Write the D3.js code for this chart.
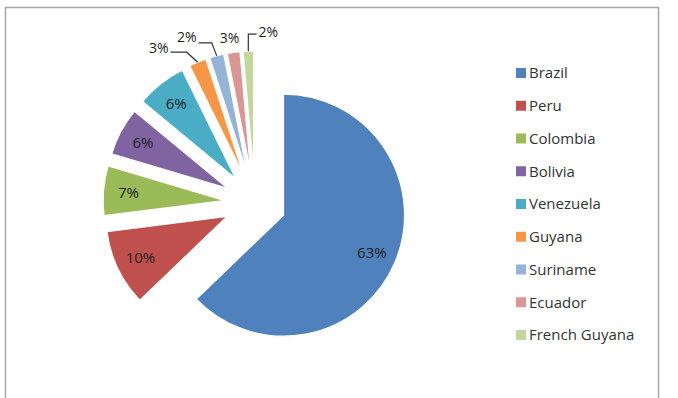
<!DOCTYPE html>
<html>
<head>
<meta charset="utf-8">
<script src="https://cdn.jsdelivr.net/npm/d3@7"></script>
<style>
  body { margin: 0; background: #fff; }
  svg { display: block; }
  text { font-family: "Open Sans", sans-serif; }
</style>
</head>
<body>
<div id="chart"></div>
<script>
// slice data (angles), plus the % labels as printed
const countries = ["Brazil", "Peru", "Colombia", "Bolivia", "Venezuela", "Guyana", "Suriname", "Ecuador", "French Guyana"];
const shares = [62.8, 10.2, 6.6, 6.4, 6.7, 2.3, 1.9, 1.7, 1.4];
const pctLabels = ["63%", "10%", "7%", "6%", "6%", "3%", "2%", "3%", "2%"];
const colors = ["#4F81BD", "#C0504D", "#9BBB59", "#8064A2", "#4BACC6", "#F79646", "#95B3D7", "#D99694", "#C3D69B"];

const width = 678;
const height = 398;

// pie layout
const cx = 255, cy = 203;
const radius = 121;
const explode = 31;
const labelRadius = 96;

// small slices get their label outside with a leader line
// text offset + elbow offset, relative to the outer arc midpoint
const callouts = {
  5: { tx: -39, ty: -14, ex: -11, ey: -10, side: "left" },
  6: { tx: -30, ty: -19, ex: -5, ey: -13, side: "left" },
  7: { tx: -4, ty: -14, ex: null, ey: null, side: "none" },
  8: { tx: 20, ty: -19, ex: 0, ey: -17, side: "right" },
};

const svg = d3.select("#chart")
  .append("svg")
  .attr("width", width)
  .attr("height", height);

// chart frame
svg.append("rect")
  .attr("x", 5.5).attr("y", 7.5)
  .attr("width", 653).attr("height", 400)
  .attr("fill", "#fff")
  .attr("stroke", "#a6a6a6")
  .attr("stroke-width", 1.5);

const pie = d3.pie().sort(null).value((d) => d);
const arcs = pie(shares);

const arc = d3.arc().innerRadius(0).outerRadius(radius);
const labelArc = d3.arc().innerRadius(labelRadius).outerRadius(labelRadius);

function offset(d, r) {
  const a = (d.startAngle + d.endAngle) / 2;
  return [Math.sin(a) * r, -Math.cos(a) * r];
}

const g = svg.append("g").attr("transform", `translate(${cx},${cy})`);

const slices = g.selectAll("g.slice")
  .data(arcs)
  .join("g")
  .attr("class", "slice")
  .attr("transform", (d) => {
    const [x, y] = offset(d, explode);
    return `translate(${x},${y})`;
  });

slices.append("path")
  .attr("d", arc)
  .attr("fill", (d, i) => colors[i])
  .attr("stroke", "#fff")
  .attr("stroke-width", 1.2);

// labels inside the bigger slices
slices.filter((d, i) => !(i in callouts))
  .append("text")
  .attr("transform", (d) => `translate(${labelArc.centroid(d)})`)
  .attr("text-anchor", "middle")
  .attr("dy", "0.35em")
  .attr("font-size", 15)
  .attr("fill", "#1e1e1e")
  .text((d) => pctLabels[d.index]);

// callouts for the thin slices
const outer = g.append("g").attr("class", "callouts");
arcs.forEach((d, i) => {
  const c = callouts[i];
  if (!c) return;
  const [ax, ay] = offset(d, explode + radius);
  const t = outer.append("text")
    .attr("x", ax + c.tx)
    .attr("y", ay + c.ty)
    .attr("text-anchor", "middle")
    .attr("dy", "0.35em")
    .attr("font-size", 14)
    .attr("fill", "#1e1e1e")
    .text(pctLabels[i]);
  if (c.side === "none") return;
  const w = t.node().getComputedTextLength();
  const endX = c.side === "left" ? ax + c.tx + w / 2 + 2 : ax + c.tx - w / 2 - 2;
  outer.append("polyline")
    .attr("points", [[ax, ay], [ax + c.ex, ay + c.ey], [endX, ay + c.ey]].map((p) => p.join(",")).join(" "))
    .attr("fill", "none")
    .attr("stroke", "#333")
    .attr("stroke-width", 1.2);
});

// legend
const legendY = d3.scalePoint().domain(countries).range([73, 335]);
const legend = svg.append("g").attr("class", "legend");
const rows = legend.selectAll("g")
  .data(countries)
  .join("g")
  .attr("transform", (d) => `translate(516,${legendY(d)})`);

rows.append("rect")
  .attr("x", 0).attr("y", -5)
  .attr("width", 10).attr("height", 10)
  .attr("fill", (d, i) => colors[i]);

rows.append("text")
  .attr("x", 13)
  .attr("dy", "0.35em")
  .attr("font-size", 15)
  .attr("fill", "#333")
  .text((d) => d);
</script>
</body>
</html>
